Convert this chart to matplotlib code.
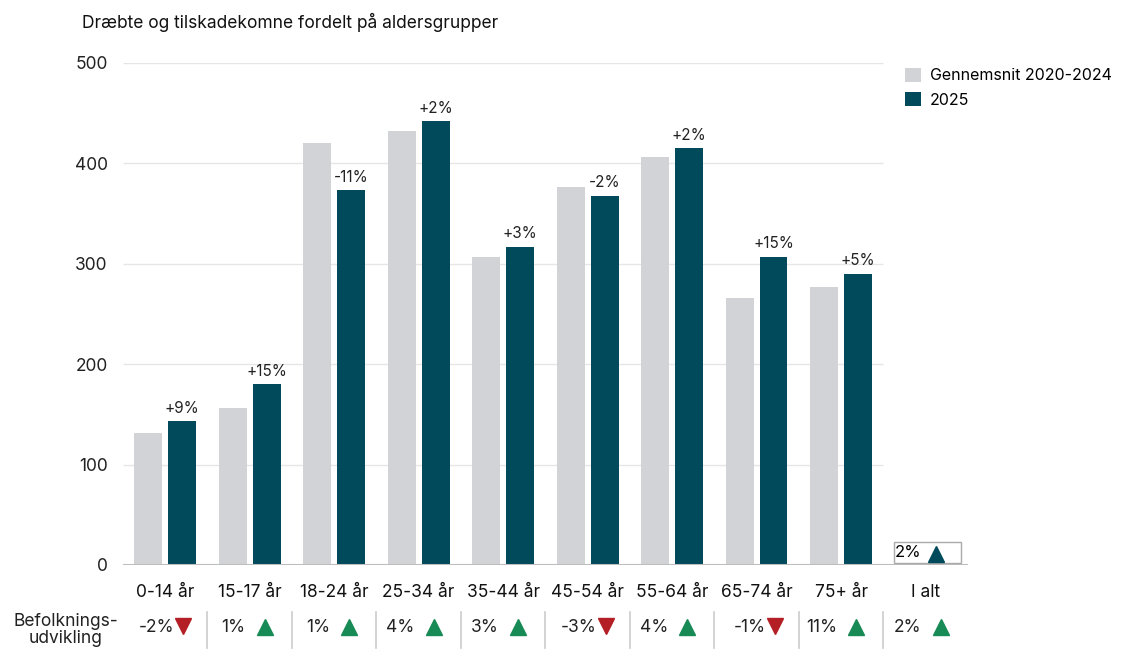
import matplotlib.pyplot as plt
from matplotlib.patches import Rectangle

plt.rcParams["font.family"] = ["Inter", "DejaVu Sans"]

categories = ["0-14 år", "15-17 år", "18-24 år", "25-34 år", "35-44 år",
              "45-54 år", "55-64 år", "65-74 år", "75+ år"]
avg_2020_2024 = [131, 156, 420, 432, 307, 376, 406, 266, 277]
values_2025 = [143, 180, 373, 442, 317, 368, 415, 307, 290]
change_labels = ["+9%", "+15%", "-11%", "+2%", "+3%", "-2%", "+2%", "+15%", "+5%"]
total_label = "I alt"
total_change = "2%"
pop_growth = ["-2%", "1%", "1%", "4%", "3%", "-3%", "4%", "-1%", "11%", "2%"]
pop_direction = [-1, 1, 1, 1, 1, -1, 1, -1, 1, 1]

GREY = "#D1D3D6"
TEAL = "#004A5C"
RED = "#B31F24"
GREEN = "#178A55"

fig = plt.figure(figsize=(11.24, 6.5), dpi=100)
ax = fig.add_axes([0.1094, 0.1308, 0.7517, 0.7723])

n = len(categories)
x = list(range(n))
w = 0.33
ax.bar([i - 0.2 for i in x], avg_2020_2024, width=w, color=GREY,
       label="Gennemsnit 2020-2024", zorder=2)
bars = ax.bar([i + 0.2 for i in x], values_2025, width=w, color=TEAL,
              label="2025", zorder=2)

for b, lab in zip(bars, change_labels):
    ax.annotate(lab, (b.get_x() + b.get_width() / 2, b.get_height()),
                xytext=(0, 4), textcoords="offset points",
                ha="center", va="bottom", fontsize=11, color="#222222")

ax.set_xlim(-0.5, n + 0.5)
ax.set_ylim(0, 500)

# gridlines stop before the "I alt" column
for yv in [100, 200, 300, 400, 500]:
    ax.hlines(yv, -0.5, n - 0.5, color="#E6E6E6", lw=1, zorder=0)
ax.axhline(0, color="#BDBDBD", lw=1.5, zorder=3)

ax.set_yticks([0, 100, 200, 300, 400, 500])
ax.tick_params(axis="y", length=0, labelsize=12.5, pad=11, colors="#222222")
ax.set_xticks(x + [n])
ax.set_xticklabels(categories + [total_label])
ax.tick_params(axis="x", length=0, labelsize=12.5, pad=14, colors="#111111")
for s in ax.spines.values():
    s.set_visible(False)

# total box inside chart
ax.add_patch(Rectangle((n - 0.38, 2), 0.8, 21, facecolor="white",
                       edgecolor="#AAAAAA", lw=1, zorder=4))
ax.text(n - 0.36, 12.5, total_change, ha="left", va="center", fontsize=12, zorder=5)
ax.plot([n + 0.12], [11], marker="^", color=TEAL, markersize=12, zorder=5)

# population development row
tr = ax.get_xaxis_transform()
row_y = -0.125
px = 1 / 84.5
for i, (val, d) in enumerate(zip(pop_growth, pop_direction)):
    if d > 0:
        ax.text(i - 4 * px, row_y, val, transform=tr, ha="right", va="center",
                fontsize=12.5, color="#222222")
        ax.plot([i + 15 * px], [row_y + 0.002], marker="^", color=GREEN,
                markersize=12, transform=tr, clip_on=False)
    else:
        ax.text(i + 9 * px, row_y, val, transform=tr, ha="right", va="center",
                fontsize=12.5, color="#222222")
        ax.plot([i + 18 * px], [row_y + 0.004], marker="v", color=RED,
                markersize=12, transform=tr, clip_on=False)
    if i < n:
        ax.plot([i + 0.5, i + 0.5], [-0.094, -0.166], color="#CCCCCC", lw=1.2,
                transform=tr, clip_on=False)

fig.text(66 / 1124, 1 - 630 / 650, "Befolknings-\nudvikling", ha="center",
         va="center", fontsize=12.5, color="#222222", linespacing=1.0)

fig.text(82 / 1124, 1 - 22 / 650, "Dræbte og tilskadekomne fordelt på aldersgrupper",
         ha="left", va="center", fontsize=12.5, color="#111111")

fig.legend(loc="upper left", bbox_to_anchor=(0.792, 0.918), frameon=False,
           fontsize=11.5, handlelength=1.0, handleheight=1.0, handletextpad=0.6,
           labelspacing=0.55)

fig.savefig("out.png", dpi=100)
